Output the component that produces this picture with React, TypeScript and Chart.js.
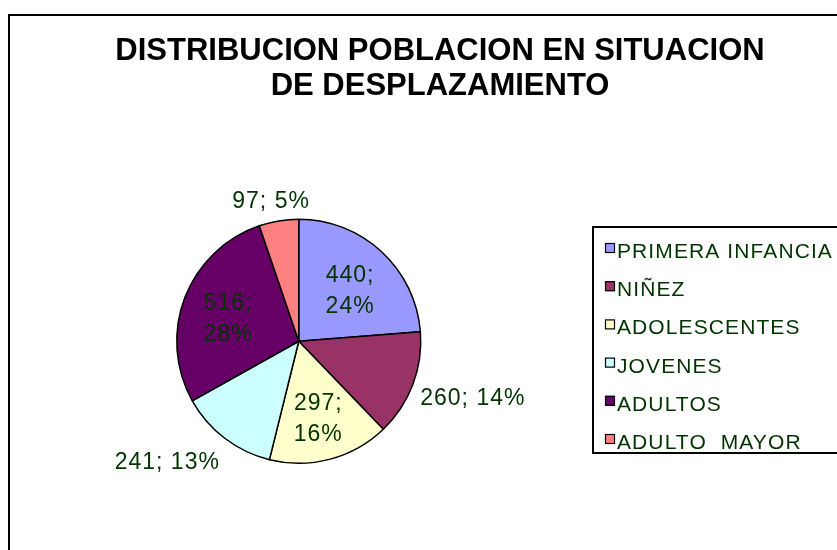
import React, { useEffect, useRef } from "react";
import { Chart, registerables } from "chart.js";

Chart.register(...registerables);

const TITLE_LINES = ["DISTRIBUCION POBLACION EN SITUACION", "DE DESPLAZAMIENTO"];
const categories = ["PRIMERA INFANCIA", "NIÑEZ", "ADOLESCENTES", "JOVENES", "ADULTOS", "ADULTO  MAYOR"];
const values = [440, 260, 297, 241, 516, 97];
const sliceColors = ["#9999FF", "#993366", "#FFFFCC", "#CCFFFF", "#660066", "#FF8080"];

const LABEL_COLOR = "#003300";
const FONT = "'Liberation Sans', Arial, sans-serif";

const decorPlugin = {
  id: "decor",
  beforeDraw(chart: any) {
    const ctx: CanvasRenderingContext2D = chart.ctx;
    const W = chart.width;
    const H = chart.height;
    ctx.save();
    ctx.fillStyle = "#ffffff";
    ctx.fillRect(0, 0, W, H);

    // outer chart frame (cropped on right and bottom)
    ctx.strokeStyle = "#000000";
    ctx.lineWidth = 2;
    ctx.beginPath();
    ctx.moveTo(9, H + 5);
    ctx.lineTo(9, 15);
    ctx.lineTo(W + 5, 15);
    ctx.stroke();

    // title
    ctx.fillStyle = "#000000";
    ctx.font = `bold 31px ${FONT}`;
    ctx.textAlign = "center";
    ctx.textBaseline = "alphabetic";
    TITLE_LINES.forEach((t, i) => ctx.fillText(t, 440, 60 + i * 35));

    // legend
    const labels: string[] = chart.data.labels;
    const colors: string[] = chart.data.datasets[0].backgroundColor;
    ctx.lineWidth = 2;
    ctx.strokeStyle = "#000000";
    ctx.strokeRect(593, 227, 300, 226);
    ctx.font = `21px ${FONT}`;
    (ctx as any).letterSpacing = "1.1px";
    ctx.textAlign = "left";
    ctx.textBaseline = "alphabetic";
    labels.forEach((lab, i) => {
      const base = 258 + i * 38.2;
      ctx.fillStyle = colors[i];
      ctx.fillRect(605, base - 15, 10, 10);
      ctx.lineWidth = 1.2;
      ctx.strokeStyle = "#000000";
      ctx.strokeRect(605.5, base - 14.5, 9, 9);
      ctx.fillStyle = LABEL_COLOR;
      ctx.fillText(lab, 617, base);
    });
    ctx.restore();
  },
  afterDatasetsDraw(chart: any) {
    const ctx: CanvasRenderingContext2D = chart.ctx;
    const meta = chart.getDatasetMeta(0);
    const data: number[] = chart.data.datasets[0].data;
    const total = data.reduce((a, b) => a + b, 0);
    ctx.save();
    ctx.font = `23px ${FONT}`;
    (ctx as any).letterSpacing = "1px";
    ctx.fillStyle = LABEL_COLOR;
    ctx.textBaseline = "middle";
    const yShift = 5;
    meta.data.forEach((arc: any, i: number) => {
      const { x, y, startAngle, endAngle, outerRadius } = arc.getProps(
        ["x", "y", "startAngle", "endAngle", "outerRadius"],
        true
      );
      const mid = (startAngle + endAngle) / 2;
      const dx = Math.cos(mid);
      const dy = Math.sin(mid);
      const share = data[i] / total;
      const pct = Math.round(share * 100) + "%";
      const valTxt = data[i] + ";";
      if (share >= 0.15) {
        const r = outerRadius * 0.62;
        const cx = x + dx * r;
        const cy = y + dy * r + yShift;
        ctx.textAlign = "center";
        ctx.fillText(valTxt, cx, cy - 15.5);
        ctx.fillText(pct, cx, cy + 15.5);
      } else {
        const txt = `${data[i]}; ${pct}`;
        const w = ctx.measureText(txt).width;
        const h = 22;
        const d = outerRadius + 8;
        const px = x + dx * d;
        const py = y + dy * d + dy * h * 0.75 + yShift;
        let cx: number;
        if (dx > 0.3) cx = px + w / 2;
        else if (dx < -0.3) cx = px - w / 2;
        else cx = px + (dx * w) / 2;
        ctx.textAlign = "center";
        ctx.fillText(txt, cx, py);
      }
    });
    ctx.restore();
  },
};

export default function App() {
  const canvasRef = useRef<HTMLCanvasElement | null>(null);

  useEffect(() => {
    document.body.style.margin = "0";
    const canvas = canvasRef.current;
    if (!canvas) return;
    const chart = new Chart(canvas, {
      type: "pie",
      data: {
        labels: categories,
        datasets: [
          {
            data: values,
            backgroundColor: sliceColors,
            borderColor: "#000000",
            borderWidth: 1.5,
          },
        ],
      },
      options: {
        responsive: false,
        animation: false,
        devicePixelRatio: 1,
        layout: {
          padding: { left: 176, top: 218.5, right: 415.5, bottom: 86 },
        },
        plugins: {
          legend: { display: false },
          title: { display: false },
          tooltip: { enabled: false },
        },
      },
      plugins: [decorPlugin],
    });
    return () => chart.destroy();
  }, []);

  return (
    <div style={{ position: "fixed", left: 0, top: 0, width: 837, height: 550, background: "#fff" }}>
      <canvas ref={canvasRef} width={837} height={550} />
    </div>
  );
}
